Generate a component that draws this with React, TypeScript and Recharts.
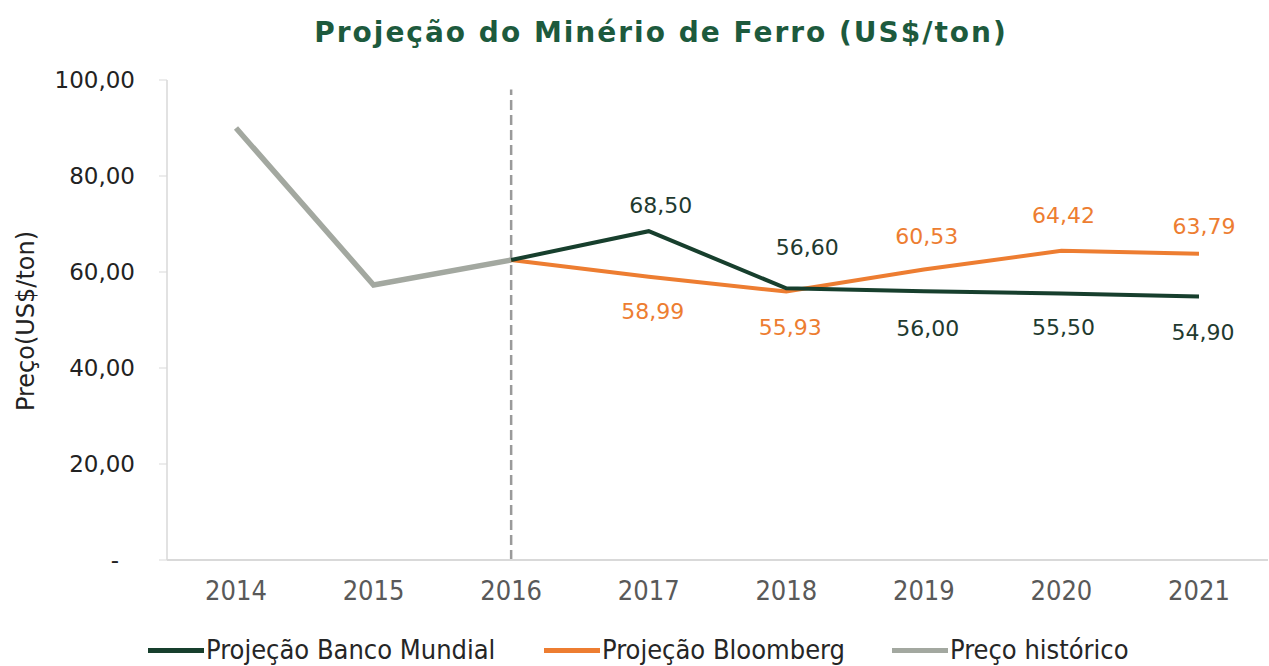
import { Line, LineChart, ReferenceLine, XAxis, YAxis } from "recharts";

const years = ["2014", "2015", "2016", "2017", "2018", "2019", "2020", "2021"];
const historico = [90.0, 57.3, 62.5, null, null, null, null, null];
const bancoMundial = [null, null, 62.5, 68.5, 56.6, 56.0, 55.5, 54.9];
const bloomberg = [null, null, 62.5, 58.99, 55.93, 60.53, 64.42, 63.79];
const yTicks = [0, 20, 40, 60, 80, 100];

const data = years.map((year, i) => ({
  year,
  historico: historico[i],
  bancoMundial: bancoMundial[i],
  bloomberg: bloomberg[i],
}));

// label nudges (dx, dy) relative to each point
const greenNudge: [number, number][] = [
  [0, 0], [0, 0], [0, 0], [12, -26], [21, -41], [4, 37], [2, 34], [4, 36],
];
const orangeNudge: [number, number][] = [
  [0, 0], [0, 0], [0, 0], [4, 35], [4, 36], [3, -33], [2, -35], [5, -27],
];

const GREEN = "#173f2d";
const ORANGE = "#ed7d31";
const GREY = "#a3a8a0";

const fmt = (v: number) => v.toFixed(2).replace(".", ",");

function makeLabel(color: string, nudge: [number, number][]) {
  return (props: any) => {
    const { x, y, value, index } = props;
    if (value == null || index < 3) return null;
    const [dx, dy] = nudge[index];
    return (
      <text
        x={x + dx}
        y={y + dy}
        fill={color}
        fontSize={22}
        fontFamily="DejaVu Sans, sans-serif"
        textAnchor="middle"
        dominantBaseline="central"
      >
        {fmt(value)}
      </text>
    );
  };
}

const YTick = (props: any) => {
  const { x, y, payload } = props;
  const zero = payload.value === 0;
  return (
    <text
      x={zero ? x - 16 : x}
      y={y}
      fill="#222"
      fontSize={23}
      fontFamily="DejaVu Sans, sans-serif"
      textAnchor="end"
      dominantBaseline="central"
    >
      {zero ? "-" : fmt(payload.value)}
    </text>
  );
};

const XTick = (props: any) => {
  const { x, y, payload } = props;
  return (
    <text
      x={x}
      y={y + 22}
      fill="#595959"
      fontSize={27}
      fontFamily="'DejaVu Sans Condensed', sans-serif"
      textAnchor="middle"
      dominantBaseline="central"
    >
      {payload.value}
    </text>
  );
};

const legendItems = [
  { label: "Projeção Banco Mundial", color: GREEN, left: 148 },
  { label: "Projeção Bloomberg", color: ORANGE, left: 544 },
  { label: "Preço histórico", color: GREY, left: 892 },
];

export default function App() {
  return (
    <div
      style={{
        position: "absolute",
        top: 0,
        left: 0,
        width: 1269,
        height: 666,
        background: "#fff",
        overflow: "hidden",
      }}
    >
      <div
        style={{
          position: "absolute",
          left: 661,
          top: 32,
          transform: "translate(-50%, -50%)",
          whiteSpace: "nowrap",
          color: "#1d5a3d",
          fontFamily: "'DejaVu Sans', sans-serif",
          fontWeight: "bold",
          fontSize: 28,
          letterSpacing: 2,
        }}
      >
        Projeção do Minério de Ferro (US$/ton)
      </div>
      <div
        style={{
          position: "absolute",
          left: 26,
          top: 321,
          transform: "translate(-50%, -50%) rotate(-90deg)",
          whiteSpace: "nowrap",
          color: "#222",
          fontFamily: "'DejaVu Sans', sans-serif",
          fontSize: 24,
        }}
      >
        Preço(US$/ton)
      </div>
      <LineChart
        width={1269}
        height={666}
        data={data}
        margin={{ top: 80, right: 1, left: 67, bottom: 56 }}
      >
        <XAxis
          dataKey="year"
          height={50}
          padding={{ left: 69, right: 69 }}
          axisLine={{ stroke: "#d9d9d9", strokeWidth: 2 }}
          tickLine={false}
          tick={<XTick />}
        />
        <YAxis
          width={100}
          domain={[0, 100]}
          ticks={yTicks}
          axisLine={{ stroke: "#d9d9d9", strokeWidth: 1.5 }}
          tickLine={{ stroke: "#d9d9d9" }}
          tickSize={8}
          tickMargin={24}
          tick={<YTick />}
        />
        <ReferenceLine
          segment={[
            { x: "2016", y: 0 },
            { x: "2016", y: 98 },
          ]}
          stroke="#9a9a9a"
          strokeWidth={2.5}
          strokeDasharray="10 5"
        />
        <Line
          dataKey="historico"
          stroke={GREY}
          strokeWidth={5.5}
          dot={false}
          isAnimationActive={false}
        />
        <Line
          dataKey="bloomberg"
          stroke={ORANGE}
          strokeWidth={4}
          dot={false}
          label={makeLabel(ORANGE, orangeNudge)}
          isAnimationActive={false}
        />
        <Line
          dataKey="bancoMundial"
          stroke={GREEN}
          strokeWidth={4}
          dot={false}
          label={makeLabel("#1f3a2f", greenNudge)}
          isAnimationActive={false}
        />
      </LineChart>
      {legendItems.map((it) => (
        <div
          key={it.label}
          style={{
            position: "absolute",
            left: it.left,
            top: 634,
            height: 32,
            lineHeight: "32px",
            display: "flex",
            alignItems: "center",
            whiteSpace: "nowrap",
            fontFamily: "'DejaVu Sans Condensed', sans-serif",
            fontSize: 27,
            color: "#262626",
          }}
        >
          <span
            style={{
              display: "inline-block",
              width: 56,
              height: 5,
              background: it.color,
              marginRight: 2,
            }}
          />
          {it.label}
        </div>
      ))}
    </div>
  );
}
